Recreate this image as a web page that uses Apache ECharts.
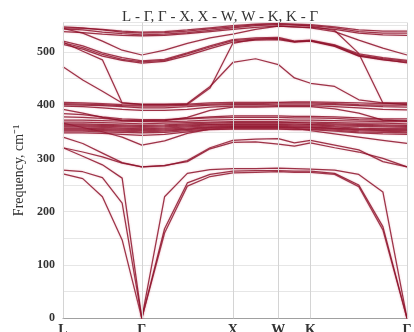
<!DOCTYPE html>
<html>
<head>
<meta charset="utf-8">
<script src="https://cdn.jsdelivr.net/npm/echarts@6/dist/echarts.min.js"></script>
<style>
  html, body { margin: 0; padding: 0; background: #fff; }
  #main { width: 414px; height: 332px; }
</style>
</head>
<body>
<div id="main"></div>
<script>
// high symmetry points along the path (path length units)
var kNames = ['L', 'Γ', 'X', 'W', 'K', 'Γ'];
var kPos = [0, 0.866, 1.866, 2.366, 2.72, 3.78];

// sampled q points along L-Γ-X-W-K-Γ
var qPath = [0, 0.217, 0.433, 0.65, 0.866, 1.116, 1.366, 1.616, 1.866, 2.116, 2.366, 2.543, 2.72, 2.985, 3.25, 3.515, 3.78];

// acoustic branches, cm-1
var acoustic = [
  [271, 262, 228, 147, 0, 160, 248, 266, 273, 274, 275, 274, 274, 270, 247, 166, 0],
  [278, 275, 264, 216, 0, 168, 254, 270, 276, 277, 277, 276, 276, 272, 250, 172, 0],
  [320, 304, 288, 263, 0, 228, 272, 279, 281, 281, 282, 281, 280, 278, 270, 237, 0]
];

// low optical branches
var lowOptical = [
  [320, 312, 303, 291, 284, 286, 296, 320, 334, 336, 337, 329, 334, 325, 316, 294, 284],
  [340, 328, 310, 292, 284, 287, 294, 318, 330, 331, 327, 323, 329, 320, 312, 300, 284],
  [366, 358, 350, 340, 325, 333, 347, 355, 358, 358, 358, 357, 352, 346, 340, 334, 328]
];

// dense band 345-385
var midBand = [
  [348, 348, 347, 345, 343, 345, 350, 354, 355, 355, 355, 354, 354, 351, 348, 346, 345],
  [351, 351, 350, 349, 348, 349, 352, 355, 356, 356, 356, 355, 355, 353, 350, 349, 348],
  [353, 353, 352, 351, 350, 351, 354, 357, 358, 358, 358, 357, 357, 355, 352, 351, 350],
  [355, 355, 354, 353, 352, 353, 355, 358, 359, 359, 359, 358, 358, 356, 354, 352, 352],
  [357, 357, 356, 355, 354, 355, 357, 359, 360, 360, 360, 359, 359, 357, 355, 354, 354],
  [359, 359, 358, 357, 356, 357, 359, 361, 362, 362, 362, 361, 361, 359, 357, 356, 356],
  [361, 361, 360, 359, 358, 359, 361, 363, 364, 364, 364, 363, 363, 361, 360, 359, 358],
  [363, 363, 362, 361, 360, 361, 363, 364, 365, 365, 365, 365, 364, 363, 362, 361, 360],
  [365, 365, 364, 363, 362, 363, 365, 366, 367, 367, 367, 367, 366, 365, 364, 363, 362],
  [368, 368, 367, 366, 365, 366, 367, 368, 369, 369, 369, 368, 368, 367, 366, 366, 365],
  [372, 372, 371, 370, 369, 369, 370, 372, 373, 373, 373, 372, 372, 371, 370, 369, 369],
  [378, 377, 375, 372, 371, 372, 374, 376, 377, 377, 377, 376, 376, 375, 373, 372, 371],
  [384, 382, 378, 374, 373, 373, 375, 378, 380, 380, 380, 379, 379, 378, 376, 374, 374]
];

// band around 400
var band400 = [
  [405, 404, 403, 401, 400, 400, 402, 404, 405, 405, 405, 406, 406, 405, 404, 403, 403],
  [403, 402, 401, 399, 398, 398, 400, 402, 403, 403, 404, 404, 404, 403, 401, 400, 400],
  [401, 400, 399, 397, 395, 395, 397, 400, 401, 401, 402, 402, 402, 401, 399, 397, 396],
  [398, 397, 395, 392, 390, 390, 392, 396, 398, 398, 399, 399, 399, 397, 395, 392, 391],
  [392, 385, 377, 371, 370, 371, 377, 390, 396, 396, 397, 397, 397, 393, 385, 372, 370]
];

// branches crossing between 400 and the upper band
var crossing = [
  [518, 501, 485, 404, 401, 401, 401, 432, 516, 524, 525, 519, 521, 511, 493, 486, 479],
  [472, 447, 426, 404, 402, 402, 403, 435, 480, 487, 476, 451, 441, 435, 410, 404, 404],
  [545, 544, 542, 539, 537, 538, 541, 545, 549, 552, 553, 551, 548, 540, 497, 404, 401]
];

// upper band
var upperBand = [
  [544, 535, 520, 503, 494, 503, 516, 526, 533, 542, 548, 547, 545, 538, 522, 507, 494],
  [520, 511, 498, 489, 483, 486, 498, 511, 523, 526, 527, 520, 522, 513, 496, 489, 484],
  [517, 508, 495, 486, 481, 484, 496, 509, 521, 524, 525, 519, 521, 512, 494, 487, 482],
  [514, 505, 492, 484, 479, 482, 493, 506, 518, 522, 523, 518, 520, 510, 492, 485, 480],
  [547, 545, 541, 537, 535, 536, 539, 543, 547, 551, 553, 552, 551, 547, 541, 539, 539],
  [543, 541, 537, 534, 532, 533, 536, 540, 545, 549, 551, 550, 549, 545, 538, 535, 535],
  [538, 536, 533, 531, 530, 531, 534, 538, 542, 546, 548, 547, 546, 542, 535, 532, 531]
];

var myChart = echarts.init(document.getElementById('main'));

var branches = [].concat(acoustic, lowOptical, midBand, band400, crossing, upperBand);

var series = branches.map(function (b, i) {
  return {
    type: 'line',
    data: b.map(function (v, j) { return [qPath[j], v]; }),
    showSymbol: false,
    symbol: 'none',
    z: 3,
    lineStyle: {
      color: 'rgba(138, 12, 36, 0.82)',
      width: 1.25,
      shadowColor: 'rgba(210, 110, 130, 0.5)',
      shadowBlur: 2
    }
  };
});

// vertical lines at the high symmetry points
series.push({
  type: 'line',
  data: [],
  z: 1,
  markLine: {
    silent: true,
    symbol: 'none',
    animation: false,
    label: { show: false },
    lineStyle: { color: '#d4d4d4', type: 'solid', width: 1 },
    data: kPos.map(function (v) { return { xAxis: v }; })
  }
});

var option = {
  animation: false,
  title: {
    text: 'L - Γ, Γ - X, X - W, W - K, K - Γ',
    left: 117,
    top: 5,
    textStyle: {
      fontFamily: 'Liberation Serif',
      fontSize: 15,
      fontWeight: 'normal',
      color: '#333'
    }
  },
  grid: {
    left: 63,
    right: 7,
    top: 22.5,
    bottom: 13.7,
    outerBoundsMode: 'none'
  },
  xAxis: {
    type: 'value',
    min: 0,
    max: 3.78,
    axisLine: { show: true, lineStyle: { color: '#a0a0a0' } },
    axisTick: { show: false },
    splitLine: { show: false },
    axisLabel: {
      customValues: kPos,
      margin: 5,
      fontFamily: 'Liberation Serif',
      fontSize: 14,
      fontWeight: 'bold',
      color: '#333',
      formatter: function (v) {
        var i = kPos.indexOf(v);
        return i >= 0 ? kNames[i] : '';
      }
    }
  },
  yAxis: {
    type: 'value',
    min: 0,
    max: 555,
    interval: 50,
    name: 'Frequency, cm⁻¹',
    nameLocation: 'middle',
    nameGap: 29,
    nameRotate: 90,
    nameTextStyle: {
      fontFamily: 'Liberation Serif',
      fontSize: 14,
      color: '#333'
    },
    axisLine: { show: false },
    axisTick: { show: false },
    splitLine: { show: true, lineStyle: { color: '#e6e6e6', width: 1 } },
    axisLabel: {
      margin: 8,
      fontFamily: 'Liberation Serif',
      fontSize: 12,
      fontWeight: 'bold',
      color: '#333',
      formatter: function (v) { return v % 100 === 0 ? String(v) : ''; }
    }
  },
  series: series
};

myChart.setOption(option);
</script>
</body>
</html>
